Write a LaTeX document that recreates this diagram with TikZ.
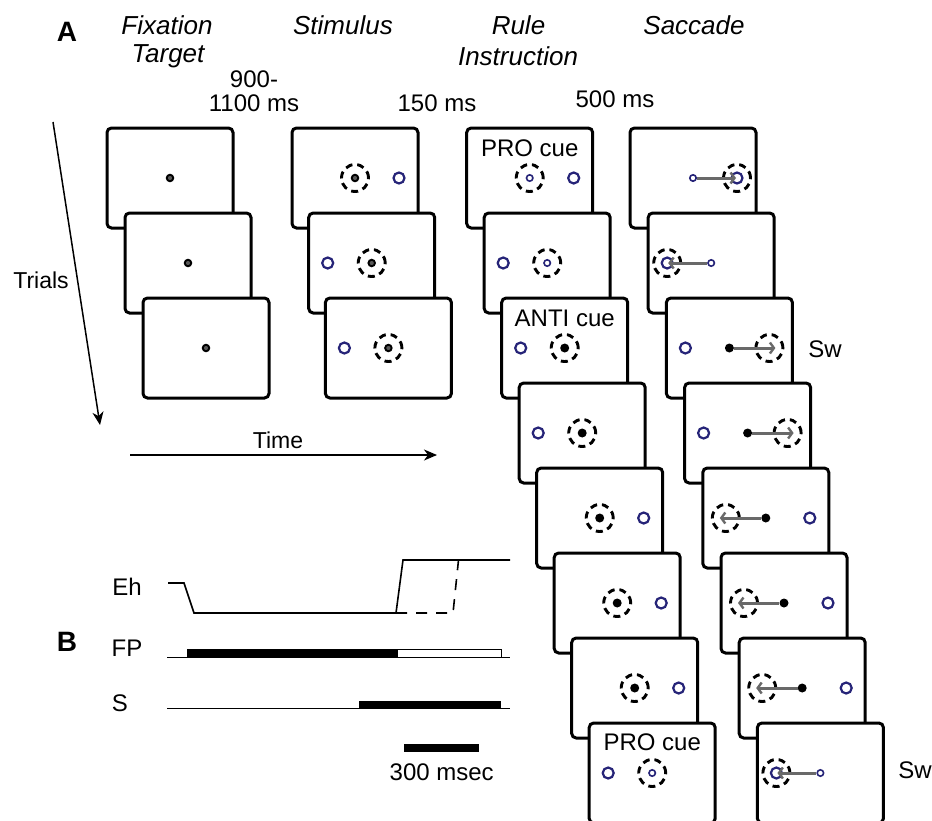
\documentclass[tikz,border=0pt]{standalone}
\usepackage{fontspec}
\setmainfont{Liberation Sans}
\usetikzlibrary{arrows.meta,calc}
\definecolor{tblue}{RGB}{38,36,120}
\definecolor{sgray}{RGB}{105,105,105}
\tikzset{
 screen/.style={draw,line width=3pt,rounded corners=4.5pt,fill=white,minimum width=126pt,minimum height=100pt,inner sep=0pt},
 dring/.style={circle,draw,line width=2.9pt,dash pattern=on 7pt off 4.9pt,minimum size=27pt,inner sep=0pt},
 fixdot/.style={circle,draw,line width=1.9pt,fill=gray!70!black,minimum size=6.5pt,inner sep=0pt},
 bdot/.style={circle,fill=black,minimum size=9pt,inner sep=0pt},
 target/.style={circle,draw=tblue,line width=2.2pt,minimum size=11pt,inner sep=0pt},
 sring/.style={circle,draw=tblue,line width=1.6pt,minimum size=6.4pt,inner sep=0pt},
 saccarrow/.style={draw=sgray,line width=3pt,-{Straight Barb[length=4pt,width=11pt,line width=2.4pt]}},
 lbl/.style={font=\fontsize{24}{28}\selectfont,inner sep=0pt},
 hdr/.style={font=\fontsize{26}{30}\selectfont\itshape,inner sep=0pt},
 panel/.style={font=\fontsize{28}{32}\selectfont\bfseries,inner sep=0pt},
 axarrow/.style={line width=1.5pt,-{Stealth[length=13pt,width=11pt,inset=4pt]}},
 trace/.style={line width=1.6pt},
}
\begin{document}
\begin{tikzpicture}[x=1pt,y=-1pt]
\useasboundingbox (0,0) rectangle (932,820);
\fill[white] (0,0) rectangle (932,820);

% headers
\node[panel] (A) at (67,32) {A};
\node[hdr] (h1) at (167,25) {Fixation};
\node[hdr] (h1b) at (168,56) {Target};
\node[hdr] (h2) at (343,25) {Stimulus};
\node[hdr] (h3) at (518.5,25) {Rule};
\node[hdr] (h3b) at (518,56) {Instruction};
\node[hdr] (h4) at (694,25) {Saccade};
\node[lbl] (t1) at (254,79) {900-};
\node[lbl] (t1b) at (254,103) {1100 ms};
\node[lbl] (t2) at (437,103) {150 ms};
\node[lbl] (t3) at (615,99) {500 ms};

% axes
\coordinate (tr0) at (53,122);
\coordinate (tr1) at (100,425);
\draw[axarrow] (tr0) -- (tr1);
\node[font=\fontsize{23}{27}\selectfont,inner sep=0pt] (trl) at (41,280) {Trials};
\coordinate (ti0) at (130,455);
\coordinate (ti1) at (437,455);
\draw[axarrow] (ti0) -- (ti1);
\node[font=\fontsize{23}{27}\selectfont,inner sep=0pt] (til) at (278,440) {Time};

% fixation column
\foreach \k in {0,1,2} {
  \node[screen] (fx\k) at ({170+18*\k},{178+85*\k}) {};
  \node[fixdot] (fxd\k) at (fx\k.center) {};
}

% stimulus column
\foreach \k/\s in {0/1,1/-1,2/-1} {
  \node[screen] (st\k) at ({355+16.7*\k},{178+85*\k}) {};
  \node[dring] (stc\k) at (st\k.center) {};
  \node[fixdot] (std\k) at (st\k.center) {};
  \node[target] (stt\k) at ($(st\k.center)+(44*\s,0)$) {};
}

% rule column
\foreach \k/\s/\c in {0/1/r,1/-1/r,2/-1/b,3/-1/b,4/1/b,5/1/b,6/1/b,7/-1/r} {
  \node[screen] (ru\k) at ({529.7+17.5*\k},{178+85*\k}) {};
  \node[dring] (ruc\k) at (ru\k.center) {};
  \if r\c
    \node[sring] (rud\k) at (ru\k.center) {};
  \else
    \node[bdot] (rud\k) at (ru\k.center) {};
  \fi
  \node[target] (rut\k) at ($(ru\k.center)+(44*\s,0)$) {};
}
\node[lbl] (cue0) at ($(ru0.center)+(0,-30)$) {PRO cue};
\node[lbl] (cue2) at ($(ru2.center)+(0,-30)$) {ANTI cue};
\node[lbl] (cue7) at ($(ru7.center)+(0,-31)$) {PRO cue};

% saccade column
\foreach \k/\s/\c in {0/1/p,1/-1/p,2/1/a,3/1/a,4/-1/a,5/-1/a,6/-1/a,7/-1/p} {
  \node[screen] (sa\k) at ({693+18.2*\k},{178+85*\k}) {};
  \if p\c
    \node[sring] (saf\k) at (sa\k.center) {};
    \node[dring] (sac\k) at ($(sa\k.center)+(44*\s,0)$) {};
    \node[target] (sat\k) at (sac\k.center) {};
    \draw[saccarrow,shorten >=1pt] (saf\k) -- (sat\k.center);
  \else
    \node[target] (sat\k) at ($(sa\k.center)+(-44*\s,0)$) {};
    \node[dring] (sac\k) at ($(sa\k.center)+(40*\s,0)$) {};
    \coordinate (sae\k) at ($(sa\k.center)+(46*\s,0)$);
    \node[bdot] (saf\k) at (sa\k.center) {};
    \draw[saccarrow] (saf\k) -- (sae\k);
  \fi
}
\node[lbl] (sw1) at (825,349) {Sw};
\node[lbl] (sw2) at (915,770) {Sw};

% panel B
\node[panel] (B) at (67,642) {B};
\node[lbl] (eh) at (127,587) {Eh};
\node[lbl] (fp) at (127,648) {FP};
\node[lbl] (sl) at (120,703) {S};
\draw[trace] (168,583) -- (184,583) -- (194,613) -- (396,613) -- (403,560) -- (510,560);
\draw[trace,dash pattern=on 11pt off 9pt] (396,613) -- (453,613) -- (458.5,560);
\draw[trace] (167,657.3) -- (510,657.3);
\fill (186.7,649.3) rectangle (397.3,657.3);
\draw[line width=1.4pt,fill=white] (397.3,649.3) rectangle (501.7,657.3);
\draw[trace] (167,708.3) -- (510,708.3);
\fill (359,701) rectangle (500.7,708.3);
\fill (404.3,744.3) rectangle (479.3,751.7);
\node[lbl] (scl) at (441.7,772) {300 msec};
\end{tikzpicture}
\end{document}
